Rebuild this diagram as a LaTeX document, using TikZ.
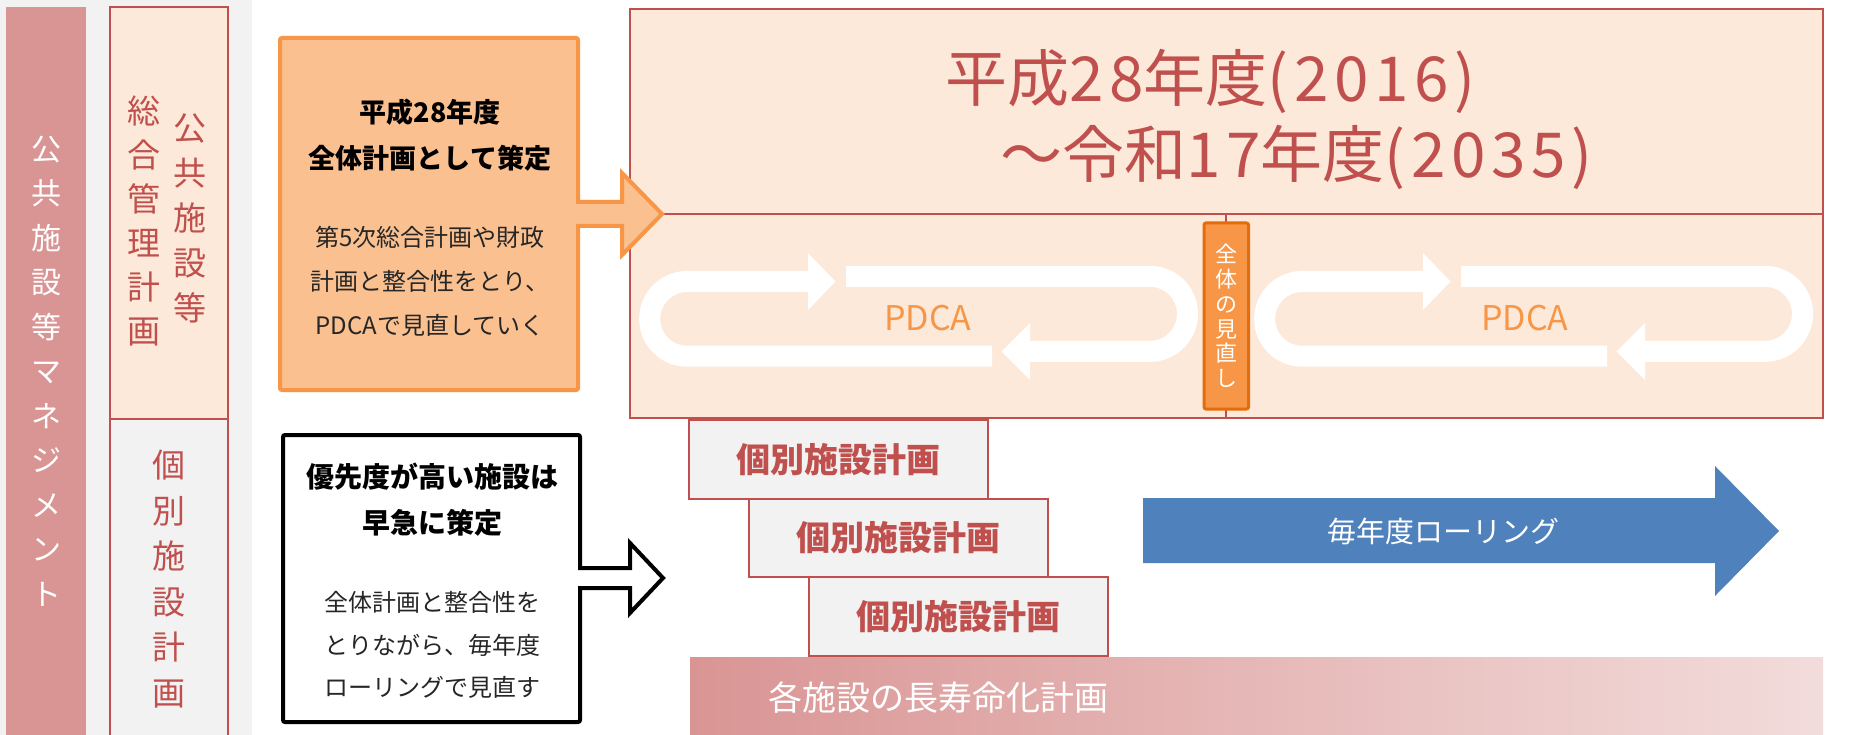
\documentclass[tikz,border=0pt]{standalone}
\usepackage{fontspec}
\setmainfont{Noto Sans CJK JP}
\usetikzlibrary{calc}
\definecolor{cred}{HTML}{C0504D}
\definecolor{cpink}{HTML}{D99594}
\definecolor{cpinkL}{HTML}{F2DCDB}
\definecolor{cpeach}{HTML}{FDE9D9}
\definecolor{cgray}{HTML}{F2F2F2}
\definecolor{corange}{HTML}{F79646}
\definecolor{corfill}{HTML}{FAC090}
\definecolor{cdkorange}{HTML}{E46C0A}
\definecolor{cblue}{HTML}{4F81BD}
\newcommand{\fsz}[2]{\fontsize{#1pt}{#2pt}\selectfont}
\newcommand{\wdig}[1]{{\addfontfeature{LetterSpace=9}#1}}
\begin{document}
\begin{tikzpicture}[x=1pt,y=-1pt,
  box/.style={anchor=north west, inner sep=0, outer sep=0},
  txt/.style={inner sep=0, align=center},
  planbox/.style={box, fill=cgray, draw=cred, line width=2, minimum width=299, minimum height=78.5,
                  text=cred, font=\bfseries\fsz{34}{40}},
  loopband/.style={white, line width=21},
]
\useasboundingbox (0,0) rectangle (1865,735);
\fill[white] (0,0) rectangle (1865,735);
\fill[cgray] (0,0) rectangle (252,735);

% left management bar
\node[box, fill=cpink, minimum width=80, minimum height=730] (mgmt) at (6,7) {};
\node[txt, text=white, font=\fsz{30}{44.5}] (mgmtT) at (46,371) {公\\共\\施\\設\\等\\マ\\ネ\\ジ\\メ\\ン\\ト};

% second column
\node[box, fill=cpeach, draw=cred, line width=2, minimum width=118, minimum height=412] (kokyo) at (110,7) {};
\node[box, fill=cgray, draw=cred, line width=2, minimum width=118, minimum height=330] (kobetsu) at (110,419) {};
\node[txt, text=cred, font=\fsz{33}{45}] (kokyoA) at (190,218) {公\\共\\施\\設\\等};
\node[txt, text=cred, font=\fsz{33}{44}] (kokyoB) at (144,221) {総\\合\\管\\理\\計\\画};
\node[txt, text=cred, font=\fsz{33}{45.5}] (kobetsuT) at (169,579) {個\\別\\施\\設\\計\\画};

% big period rectangle
\node[box, fill=cpeach, draw=cred, line width=2, minimum width=1193.5, minimum height=408.5] (period) at (629.5,9.5) {};
\coordinate (divL) at (629.5,214);
\coordinate (divR) at (1823,214);
\draw[cred, line width=2] (divL) -- (divR);
\node[anchor=west, inner sep=0, text=cred, font=\fsz{62}{70}] (title1) at (945,81) {平成\wdig{28}年度\wdig{(2016)}};
\node[anchor=west, inner sep=0, text=cred, font=\fsz{62}{70}] (title2) at (1000,157) {～令和\wdig{17}年度\wdig{(2035)}};

% PDCA loops
\foreach \dx in {0,615}{
  \begin{scope}[xshift=\dx]
    \draw[loopband] (808,281.5) -- (687,281.5) arc[start angle=270, end angle=90, radius=37.35] -- (992,356.2);
    \fill[white] (808,253) -- (835.5,281.5) -- (808,310) -- cycle;
    \draw[loopband] (846,276.35) -- (1150,276.35) arc[start angle=270, end angle=450, radius=37.5] -- (1030,351.35);
    \fill[white] (1030,323) -- (1001.6,351.5) -- (1030,380) -- cycle;
  \end{scope}
}
\node[text=corange, font=\fsz{34}{40}] (pdca1) at (928,318) {PDCA};
\node[text=corange, font=\fsz{34}{40}] (pdca2) at (1525,318) {PDCA};

% overall review marker
\coordinate (revTop) at (1226,214);
\coordinate (revBot) at (1226,418);
\draw[cred, line width=1.5] (revTop) -- (revBot);
\node[box, fill=corange, draw=cdkorange, line width=3, rounded corners=2, minimum width=44.5, minimum height=186] (review) at (1204,223) {};
\node[txt, text=white, font=\fsz{22}{24.8}] (reviewT) at (review.center) {全\\体\\の\\見\\直\\し};

% orange box with arrow
\node[box, fill=corfill, draw=corange, line width=4, rounded corners=2, minimum width=298, minimum height=352] (obox) at (280,38) {};
\fill[corfill] (575,204) rectangle (582,226);
\filldraw[fill=corfill, draw=corange, line width=4, line join=miter] (576,202) -- (622,202) -- (622,173) -- (662,214) -- (622,255) -- (622,226) -- (576,226);
\node[txt, font=\bfseries\fsz{27}{46}] (oboxT1) at (430,135) {平成28年度\\全体計画として策定};
\node[txt, font=\fsz{24}{44}, text=black!85] (oboxT2) at (430,281) {第5次総合計画や財政\\計画と整合性をとり、\\PDCAで見直していく};

% black box with arrow
\node[box, fill=white, draw=black, line width=4, rounded corners=2, minimum width=297, minimum height=287] (bbox) at (283,435) {};
\fill[white] (577,570) rectangle (584,586);
\filldraw[fill=white, draw=black, line width=4, line join=miter] (578,568) -- (630,568) -- (630,543) -- (663,578) -- (630,613) -- (630,588) -- (578,588);
\node[txt, font=\bfseries\fsz{28}{46}] (bboxT1) at (432,500) {優先度が高い施設は\\早急に策定};
\node[txt, font=\fsz{24}{42.5}, text=black!85] (bboxT2) at (432,645) {全体計画と整合性を\\とりながら、毎年度\\ローリングで見直す};

% individual plans
\node[planbox] (plan1) at (689,420) {個別施設計画};
\node[planbox] (plan2) at (749,498.5) {個別施設計画};
\node[planbox] (plan3) at (809,577) {個別施設計画};

% long-life bar
\node[box, left color=cpink, right color=cpinkL, minimum width=1133, minimum height=80] (longbar) at (690,657) {};
\node[anchor=west, inner sep=0, text=white, font=\fsz{34}{40}] (longT) at (768,698) {各施設の長寿命化計画};

% blue rolling arrow
\fill[cblue] (1143,498) -- (1715,498) -- (1715,466) -- (1779,531) -- (1715,596) -- (1715,563) -- (1143,563) -- cycle;
\node[text=white, font=\fsz{29}{34}] (rolling) at (1443,531) {毎年度ローリング};
\end{tikzpicture}
\end{document}
